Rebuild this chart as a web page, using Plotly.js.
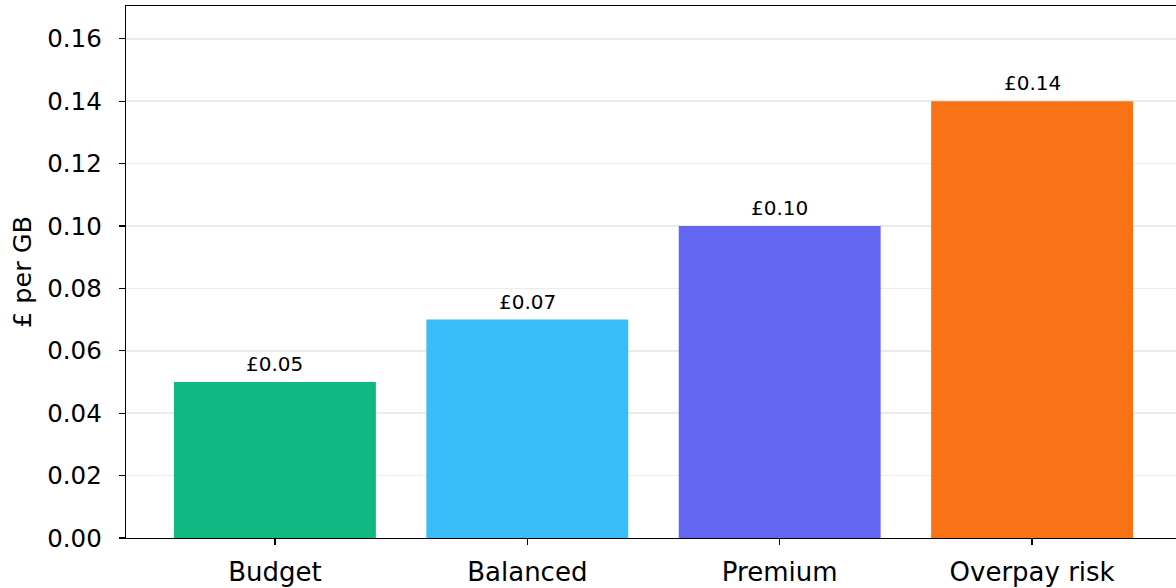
<!DOCTYPE html>
<html>
<head>
<meta charset="utf-8">
<script src="https://cdn.plot.ly/plotly-3.0.1.min.js"></script>
<style>
html, body { margin: 0; padding: 0; overflow: hidden; background: #fff; }
#chart { width: 1181px; height: 588px; }
</style>
</head>
<body>
<div id="chart"></div>
<script>
const categories = ["Budget", "Balanced", "Premium", "Overpay risk"];
const pricePerGB = [0.05, 0.07, 0.10, 0.14];
const barLabels = ["£0.05", "£0.07", "£0.10", "£0.14"];
const barColors = ["#10b981", "#38bdf8", "#6366f1", "#f97316"];
const yTicks = [0, 0.02, 0.04, 0.06, 0.08, 0.10, 0.12, 0.14, 0.16];
const yTickText = ["0.00", "0.02", "0.04", "0.06", "0.08", "0.10", "0.12", "0.14", "0.16"];

const font = "DejaVu Sans, sans-serif";
const xPos = categories.map((c, i) => i);

const trace = {
  type: "bar",
  x: xPos,
  y: pricePerGB,
  width: 0.8,
  marker: { color: barColors, line: { width: 0 } },
  hoverinfo: "none"
};

const annotations = barLabels.map((t, i) => ({
  x: xPos[i],
  y: pricePerGB[i],
  xref: "x",
  yref: "y",
  text: t,
  showarrow: false,
  xanchor: "center",
  yanchor: "bottom",
  yshift: 4,
  font: { family: font, size: 20, color: "#000" }
}));

const layout = {
  width: 1181,
  height: 588,
  margin: { l: 125.5, r: 0, t: 6, b: 50 },
  paper_bgcolor: "#fff",
  plot_bgcolor: "#fff",
  showlegend: false,
  font: { family: font, color: "#000" },
  annotations: annotations,
  xaxis: {
    range: [-0.59, 3.59],
    tickvals: xPos,
    ticktext: categories,
    ticks: "outside",
    ticklen: 6,
    tickwidth: 1.3,
    tickcolor: "#000",
    tickfont: { family: font, size: 26, color: "#000" },
    ticklabelstandoff: 4,
    showline: true,
    linecolor: "#000",
    linewidth: 1.3,
    mirror: true,
    showgrid: false,
    zeroline: false,
    automargin: false,
    fixedrange: true
  },
  yaxis: {
    range: [0, 0.1705],
    tickvals: yTicks,
    ticktext: yTickText,
    ticks: "outside",
    ticklen: 6,
    tickwidth: 1.3,
    tickcolor: "#000",
    tickfont: { family: font, size: 24.5, color: "#000" },
    ticklabelstandoff: 12,
    showline: true,
    linecolor: "#000",
    linewidth: 1.3,
    mirror: true,
    showgrid: true,
    gridcolor: "#ebebeb",
    gridwidth: 1.5,
    zeroline: false,
    automargin: false,
    title: { text: "£ per GB", font: { family: font, size: 25.5, color: "#000" }, standoff: 8 },
    fixedrange: true
  }
};

Plotly.newPlot("chart", [trace], layout, { displayModeBar: false, staticPlot: true });
</script>
</body>
</html>
